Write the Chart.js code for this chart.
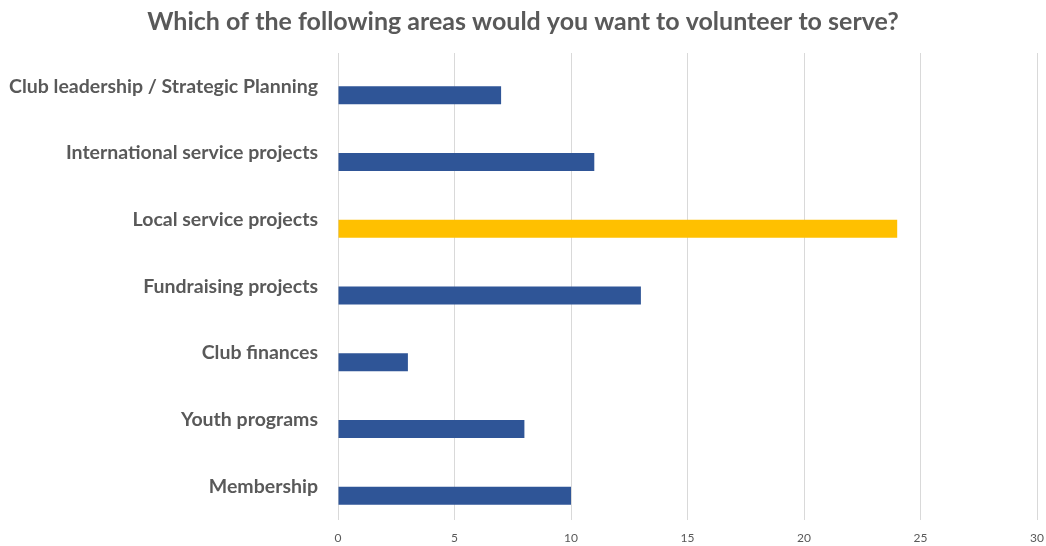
<!DOCTYPE html>
<html>
<head>
<meta charset="utf-8">
<script src="https://cdn.jsdelivr.net/npm/chart.js@4"></script>
<style>
  html, body { margin: 0; padding: 0; background: #ffffff; overflow: hidden; width: 1046px; height: 546px; }
  #wrap { width: 1046px; height: 546px; position: relative; }
  canvas { display: block; }
</style>
</head>
<body>
<div id="wrap"><canvas id="c"></canvas></div>
<script>
const titleText = "Which of the following areas would you want to volunteer to serve?";
const categories = [
  "Club leadership / Strategic Planning",
  "International service projects",
  "Local service projects",
  "Fundraising projects",
  "Club finances",
  "Youth programs",
  "Membership"
];
const responses = [7, 11, 24, 13, 3, 8, 10];
const spacerSeries = [null, null, null, null, null, null, null];
const highlightCategory = "Local service projects";
const xTicks = [0, 5, 10, 15, 20, 25, 30];

const BLUE = "#2F5597";
const GOLD = "#FFC000";
const TEXT = "#595959";
const GRID = "#D9D9D9";

const barColors = categories.map(c => c === highlightCategory ? GOLD : BLUE);

new Chart(document.getElementById("c"), {
  type: "bar",
  data: {
    labels: categories,
    datasets: [
      { label: "spacer", data: spacerSeries, backgroundColor: "rgba(0,0,0,0)" },
      { label: "Responses", data: responses, backgroundColor: barColors, borderWidth: 0 }
    ]
  },
  options: {
    indexAxis: "y",
    responsive: true,
    maintainAspectRatio: false,
    animation: false,
    datasets: { bar: { categoryPercentage: 0.54, barPercentage: 1.0 } },
    layout: { padding: { left: 0, right: 0, top: 0, bottom: 0 } },
    plugins: {
      legend: { display: false },
      tooltip: { enabled: false },
      title: {
        display: true,
        text: titleText,
        color: TEXT,
        font: { family: "Lato", size: 25, weight: "bold" },
        padding: { top: 7, bottom: 16 }
      }
    },
    scales: {
      x: {
        min: 0,
        max: 30,
        afterBuildTicks: s => { s.ticks = xTicks.map(v => ({ value: v })); },
        ticks: { color: TEXT, font: { family: "Lato", size: 12 }, padding: 11 },
        grid: { color: GRID, lineWidth: 1, drawTicks: false },
        border: { display: false },
        afterFit: s => { s.height = 26; s.paddingRight = 9; }
      },
      y: {
        ticks: { color: TEXT, font: { family: "Lato", size: 19.5, weight: "bold" }, padding: 20 },
        grid: { display: false, drawTicks: false },
        border: { display: false },
        afterFit: s => { s.width = 338; s.paddingTop = 0; s.paddingBottom = 0; }
      }
    }
  }
});
</script>
</body>
</html>
